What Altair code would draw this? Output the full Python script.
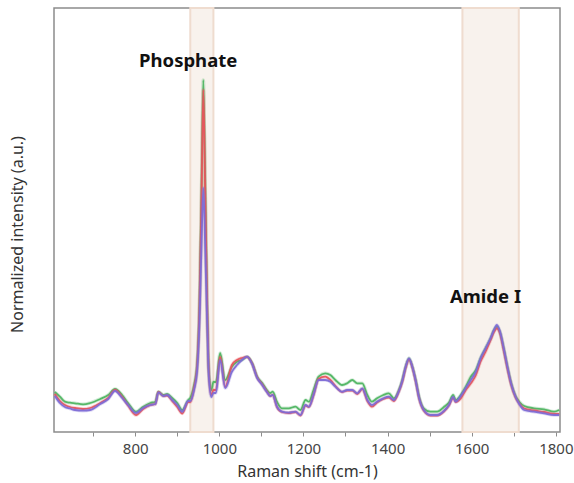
import altair as alt
import pandas as pd

# Raman shift (cm-1) sampling points
shift = [609, 621, 633, 645, 657, 676, 693, 717, 736, 752, 769, 783, 802, 819, 836, 848, 855, 867, 876, 888,
         900, 912, 926, 931, 940, 947, 953, 958, 962, 966, 971, 975, 981, 986, 992, 1002, 1014, 1030, 1042, 1054,
         1066, 1078, 1090, 1102, 1113, 1121, 1127, 1137, 1149, 1165, 1181, 1193, 1205, 1213, 1224, 1236, 1252, 1264, 1276, 1292,
         1304, 1316, 1328, 1340, 1352, 1363, 1375, 1390, 1403, 1415, 1427, 1435, 1443, 1451, 1459, 1467, 1475, 1486, 1502, 1518,
         1534, 1546, 1556, 1562, 1574, 1586, 1598, 1610, 1621, 1633, 1645, 1653, 1660, 1667, 1677, 1685, 1694, 1705, 1713, 1725,
         1748, 1772, 1796, 1808]

green = [40, 35.3, 30.3, 29.3, 28.7, 27.7, 29, 33, 37, 43, 37, 29, 20.3, 25.3, 29, 30.3, 40.3, 37, 38, 34,
         29, 22, 32, 34, 47, 67, 132, 252, 352, 262, 132, 62, 42, 50, 50, 79, 52, 65.3, 70.3, 72,
         75.3, 69, 55.3, 49, 42, 39, 40.3, 30.3, 23.7, 23.7, 25.3, 22, 32, 30.3, 42, 55.3, 58.7, 57, 52, 47,
         48.7, 52, 48.7, 48.7, 37, 30.3, 33.7, 37, 38.7, 33.7, 42, 52, 65.3, 73.7, 65.3, 52, 35.3, 23.7, 20.3, 20.3,
         25, 29.5, 37, 32, 37, 45.3, 55.3, 62, 73.7, 83.7, 93.7, 102, 105.3, 100.3, 82, 65.3, 48.7, 35.3, 30.3, 26,
         23.7, 22.7, 20.3, 22]

red = [38, 31, 27, 25, 24, 23, 24, 29, 34, 42, 35, 26.5, 17, 23, 27, 28, 40, 36, 36.5, 31,
       25, 18.5, 30, 30, 44, 64, 127, 242, 342, 252, 127, 60, 37, 42, 42, 75, 45.3, 67, 72, 74,
       75, 68.5, 54.5, 47.5, 40.5, 36, 37, 25, 20, 19, 20, 16.5, 26.5, 25, 36.5, 53, 55.3, 52, 46, 40,
       41.5, 41.5, 38, 43, 31, 25.3, 29.5, 33, 34.5, 31, 40.5, 50, 64, 72.5, 64.5, 50.5, 33.5, 21.5, 16.5, 16.5,
       20.5, 26.5, 34, 30, 33.7, 42, 48.7, 57, 70.3, 80.3, 92, 100, 103.7, 99, 80, 63.5, 47, 34, 28.5, 23.5,
       21.5, 20, 18, 18]

purple = [36, 29, 25, 23.5, 22, 21.3, 22, 28, 33, 41, 34, 27, 19, 24, 27, 28, 39.5, 36, 37, 32,
          27, 20.3, 31, 31, 42, 60, 112, 192, 244, 192, 112, 56, 35, 39, 39, 72, 44, 60.3, 67, 72,
          75.3, 68, 54, 47, 40, 36, 37, 25.3, 20.3, 19.3, 20.3, 17, 27, 25.3, 37, 52, 52, 50.3, 45.3, 40.3,
          42, 42, 38.7, 43.7, 32, 27, 30.3, 33.7, 35.3, 32, 41, 51, 65, 73.7, 65, 51, 34, 22, 17, 17,
          21, 27, 35, 30.3, 36, 44, 52, 60.3, 73.7, 83.7, 94, 102, 107, 101, 82, 65, 48, 34.5, 28, 22,
          20.3, 18.7, 17, 17]

band_labels = ["Phosphate", "Amide I"]
band_start = [931, 1578]
band_end = [986, 1712]
label_x = [926, 1633]
label_y = [371, 135]

tick_values = [700, 800, 900, 1000, 1100, 1200, 1300, 1400, 1500, 1600, 1700, 1800]

spec_df = pd.DataFrame({"shift": shift, "green": green, "red": red, "purple": purple})
band_df = pd.DataFrame({"label": band_labels, "start": band_start, "end": band_end,
                        "lx": label_x, "ly": label_y})

W, H = 506, 424
FONT = "Noto Sans"

xscale = alt.Scale(domain=[607, 1810], nice=False, zero=False)
yscale = alt.Scale(domain=[0, 424], nice=False, zero=True)

xaxis = alt.Axis(values=tick_values, labelExpr="datum.value % 200 == 0 ? format(datum.value, 'd') : ''",
                 title="Raman shift (cm-1)", domain=False, grid=False, tickSize=4, tickColor="#8c8c8c",
                 labelColor="#444444", labelFontSize=15, labelFont=FONT, labelPadding=5,
                 titleFont=FONT, titleFontSize=16, titleColor="#333333", titleFontWeight="normal",
                 titlePadding=7)
yaxis = alt.Axis(labels=False, ticks=False, domain=False, grid=False,
                 title="Normalized intensity (a.u.)", titleFont=FONT, titleFontSize=16,
                 titleColor="#333333", titleFontWeight="normal", titleX=-37, titleY=226,
                 titleAngle=-90, titleAlign="center", titleBaseline="middle")

bands = alt.Chart(band_df).mark_rect(fill="#f8f2ed", stroke="#efdccf", strokeWidth=2).encode(
    x=alt.X("start:Q", scale=xscale, axis=xaxis),
    x2="end:Q",
    y=alt.value(0),
    y2=alt.value(H),
)

def line(col, color, width, opacity):
    return alt.Chart(spec_df).mark_line(color=color, strokeWidth=width, opacity=opacity,
                                        interpolate="monotone", strokeJoin="round").encode(
        x=alt.X("shift:Q", scale=xscale, axis=xaxis),
        y=alt.Y(f"{col}:Q", scale=yscale, axis=yaxis),
    )

series = [("green", "#4fb562"), ("red", "#e8545c"), ("purple", "#7d6bd6")]
layers = [bands]
for col, color in series:
    layers.append(line(col, color, 3.5, 0.25))
    layers.append(line(col, color, 1.8, 0.95))

texts = alt.Chart(band_df).mark_text(font=FONT, fontSize=18.5, fontWeight="bold", color="#111111",
                                     baseline="middle", align="center").encode(
    x=alt.X("lx:Q", scale=xscale),
    y=alt.Y("ly:Q", scale=yscale),
    text="label:N",
)
layers.append(texts)

chart = alt.layer(*layers).properties(
    width=W, height=H,
    autosize=alt.AutoSizeParams(type="none"),
    padding={"left": 54, "top": 8, "right": 14, "bottom": 51},
    background="white",
).configure_view(stroke="#8c8c8c", strokeWidth=1.5)

chart.save("out.html", embed_options={"renderer": "svg", "actions": False})
